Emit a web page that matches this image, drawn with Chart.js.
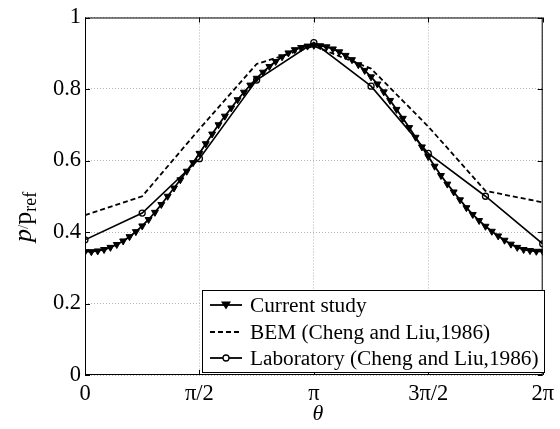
<!DOCTYPE html>
<html>
<head>
<meta charset="utf-8">
<script src="https://cdn.jsdelivr.net/npm/chart.js@4/dist/chart.umd.min.js"></script>
<style>
  html, body { margin: 0; padding: 0; background: #fff; }
  #c { display: block; }
</style>
</head>
<body>
<canvas id="c" width="560" height="429"></canvas>
<script>
// ---- Data (theta in degrees) ----
const thetaCurrent = [0,5,10,15,20,25,30,35,40,45,50,55,60,65,70,75,80,85,90,95,100,105,110,115,120,125,130,135,140,145,150,155,160,165,170,175,180,
  185,190,195,200,205,210,215,220,225,230,235,240,245,250,255,260,265,270,275,280,285,290,295,300,305,310,315,320,325,330,335,340,345,350,355,360];
const currentStudy = [0.345,0.345,0.347,0.351,0.357,0.365,0.375,0.387,0.401,0.417,0.435,0.455,0.477,0.500,0.523,0.546,0.570,0.594,0.620,0.647,0.674,0.700,0.724,0.747,0.770,0.791,0.811,0.830,0.847,0.863,0.877,0.890,0.901,0.910,0.916,0.920,0.922,
  0.921,0.918,0.912,0.904,0.894,0.882,0.868,0.852,0.834,0.814,0.792,0.768,0.743,0.718,0.692,0.665,0.638,0.611,0.584,0.558,0.534,0.512,0.490,0.468,0.449,0.432,0.416,0.402,0.389,0.377,0.366,0.357,0.351,0.348,0.346,0.346];
const thetaBEM = [0,45,90,135,180,225,270,315,360];
const bem = [0.447,0.500,0.688,0.870,0.920,0.857,0.695,0.515,0.483];
const thetaLab = [0,45,90,135,180,225,270,315,360];
const laboratory = [0.378,0.453,0.605,0.825,0.930,0.808,0.620,0.500,0.367];

const xTickValues = [0, Math.PI/2, Math.PI, 3*Math.PI/2, 2*Math.PI];
const xTickLabels = ['0','\u03C0/2','\u03C0','3\u03C0/2','2\u03C0'];
const yTickLabels = ['0','0.2','0.4','0.6','0.8','1'];
const seriesNames = ['Current study','BEM (Cheng and Liu,1986)','Laboratory (Cheng and Liu,1986)'];

const SERIF = "'Liberation Serif','Times New Roman',serif";
const toPts = (th, v) => th.map((d, i) => ({ x: d * Math.PI / 180, y: v[i] }));

const decor = {
  id: 'decor',
  beforeDatasetsDraw(chart) {
    const { ctx, chartArea: a, scales } = chart;
    ctx.save();
    ctx.strokeStyle = '#000';
    ctx.lineWidth = 1;
    ctx.strokeRect(a.left + 0.5, a.top + 0.5, a.right - a.left - 1, a.bottom - a.top - 1);
    ctx.beginPath();
    xTickValues.forEach(v => {
      const x = Math.round(scales.x.getPixelForValue(v)) + 0.5;
      ctx.moveTo(x, a.bottom); ctx.lineTo(x, a.bottom - 5);
      ctx.moveTo(x, a.top); ctx.lineTo(x, a.top + 5);
    });
    [0, 0.2, 0.4, 0.6, 0.8, 1].forEach(v => {
      const y = Math.round(scales.y.getPixelForValue(v)) + 0.5;
      ctx.moveTo(a.left, y); ctx.lineTo(a.left + 5, y);
      ctx.moveTo(a.right, y); ctx.lineTo(a.right - 5, y);
    });
    ctx.stroke();
    ctx.restore();
  },
  afterDatasetsDraw(chart) {
    const { ctx } = chart;
    ctx.save();
    // legend box
    const bx = 202.5, by = 290.5, bw = 342, bh = 82;
    ctx.fillStyle = '#fff';
    ctx.fillRect(bx, by, bw, bh);
    ctx.strokeStyle = '#000';
    ctx.lineWidth = 1;
    ctx.strokeRect(bx, by, bw, bh);
    const rows = [305, 332, 358];
    ctx.font = '21.3px ' + SERIF;
    ctx.fillStyle = '#000';
    ctx.textBaseline = 'middle';
    ctx.textAlign = 'left';
    rows.forEach((ry, i) => {
      ctx.beginPath();
      ctx.lineWidth = 1.8;
      ctx.setLineDash(i === 1 ? [5, 3] : []);
      ctx.moveTo(210, ry); ctx.lineTo(242, ry);
      ctx.stroke();
      ctx.setLineDash([]);
      if (i === 0) {
        ctx.beginPath();
        ctx.moveTo(221, ry - 3.5); ctx.lineTo(231, ry - 3.5); ctx.lineTo(226, ry + 4.5); ctx.closePath();
        ctx.fill();
      } else if (i === 2) {
        ctx.beginPath();
        ctx.lineWidth = 1.3;
        ctx.arc(226, ry, 3, 0, Math.PI * 2);
        ctx.fillStyle = '#fff'; ctx.fill(); ctx.stroke();
        ctx.fillStyle = '#000';
      }
      ctx.fillText(seriesNames[i], 250, ry + 1);
    });
    // x title
    ctx.font = 'italic 22px ' + SERIF;
    ctx.textAlign = 'center';
    ctx.textBaseline = 'alphabetic';
    ctx.fillText('\u03B8', 318, 420);
    // y title p/p_ref rotated
    ctx.translate(31, 242);
    ctx.rotate(-Math.PI / 2);
    ctx.textAlign = 'left';
    let x = 0;
    ctx.font = 'italic 26px ' + SERIF;
    ctx.fillText('p', x, 0); x += ctx.measureText('p').width;
    ctx.font = '15px ' + SERIF;
    ctx.fillStyle = '#555';
    ctx.fillText('/', x, -3); x += ctx.measureText('/').width;
    ctx.fillStyle = '#000';
    ctx.font = '26px ' + SERIF;
    ctx.fillText('p', x, 0); x += ctx.measureText('p').width;
    ctx.font = '18px ' + SERIF;
    ctx.fillText('ref', x, 5);
    ctx.restore();
  }
};

new Chart(document.getElementById('c'), {
  type: 'line',
  data: {
    datasets: [
      {
        label: seriesNames[0],
        data: toPts(thetaCurrent, currentStudy),
        borderColor: '#000', backgroundColor: '#000', borderWidth: 1.8,
        pointStyle: 'triangle', pointRotation: 180, pointRadius: 4,
        pointBackgroundColor: '#000', pointBorderColor: '#000', pointBorderWidth: 1,
        tension: 0, order: 1
      },
      {
        label: seriesNames[1],
        data: toPts(thetaBEM, bem),
        borderColor: '#000', borderWidth: 1.8, borderDash: [5, 3],
        pointRadius: 0, tension: 0, order: 3
      },
      {
        label: seriesNames[2],
        data: toPts(thetaLab, laboratory),
        borderColor: '#000', borderWidth: 1.6,
        pointStyle: 'circle', pointRadius: 3, pointBorderWidth: 1.3,
        pointBackgroundColor: 'rgba(255,255,255,0)', pointBorderColor: '#000',
        tension: 0, order: 2
      }
    ]
  },
  options: {
    responsive: false,
    animation: false,
    layout: { padding: { top: 15, right: 13, left: 0, bottom: 0 } },
    plugins: { legend: { display: false }, tooltip: { enabled: false } },
    scales: {
      x: {
        type: 'linear', min: 0, max: 2 * Math.PI,
        afterBuildTicks: s => { s.ticks = xTickValues.map(v => ({ value: v })); },
        afterFit: s => { s.height = 54; },
        ticks: {
          autoSkip: false, maxRotation: 0, padding: 6, color: '#000',
          font: { family: SERIF, size: 22.5 },
          callback: (v, i) => xTickLabels[i]
        },
        grid: { color: '#b5b5b5', lineWidth: 1, drawTicks: false },
        border: { display: false, dash: [1, 2] }
      },
      y: {
        min: 0, max: 1,
        afterBuildTicks: s => { s.ticks = [0, 0.2, 0.4, 0.6, 0.8, 1].map(v => ({ value: v })); },
        afterFit: s => { s.width = 85; },
        ticks: {
          padding: 4, color: '#000',
          font: { family: SERIF, size: 22.5 },
          callback: (v, i) => yTickLabels[i]
        },
        grid: { color: '#b5b5b5', lineWidth: 1, drawTicks: false },
        border: { display: false, dash: [1, 2] }
      }
    }
  },
  plugins: [decor]
});
</script>
</body>
</html>
